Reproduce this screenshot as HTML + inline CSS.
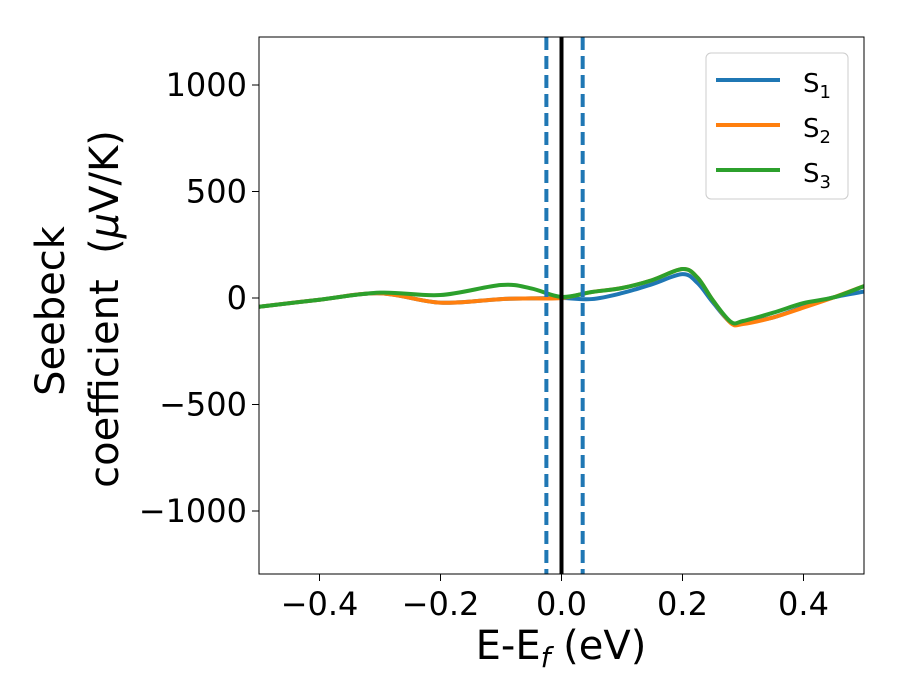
<!DOCTYPE html>
<html><head><meta charset="utf-8"><style>
body{margin:0;background:#fff;}
svg{display:block;font-family:"DejaVu Sans","Liberation Sans",sans-serif;}
</style></head><body>
<svg id="chart" width="900" height="700">
<g id="plot"></g>
<g id="axes"></g>
<text x="561" y="659" font-size="40" text-anchor="middle">E-E<tspan font-style="italic" font-size="28" dy="8">f</tspan><tspan dy="-8"> (eV)</tspan></text>
<text transform="translate(64,311) rotate(-90)" font-size="40" text-anchor="middle">Seebeck</text>
<text transform="translate(118,309) rotate(-90)" font-size="40" text-anchor="middle">coefficient&#160; (<tspan font-style="italic">μ</tspan>V/K)</text>
<g>
<rect x="706" y="53" width="142" height="146" rx="5" fill="#fff" stroke="#ccc" stroke-width="1"/>
<line x1="716" y1="80" x2="780" y2="80" stroke="#1f77b4" stroke-width="4"/>
<text x="803" y="92" font-size="26">S<tspan font-size="18" dy="6">1</tspan></text>
<line x1="716" y1="125" x2="780" y2="125" stroke="#ff7f0e" stroke-width="4"/>
<text x="803" y="137" font-size="26">S<tspan font-size="18" dy="6">2</tspan></text>
<line x1="716" y1="170" x2="780" y2="170" stroke="#2ca02c" stroke-width="4"/>
<text x="803" y="182" font-size="26">S<tspan font-size="18" dy="6">3</tspan></text>
</g>
</svg>
<script>
const energies=[-0.5,-0.4,-0.3,-0.2,-0.1,-0.05,0,0.05,0.1,0.15,0.2,0.225,0.25,0.28,0.3,0.35,0.4,0.45,0.5];
const s1=[-41,-8,22,-22,-5,-2,0,-5,23,65,112,70,-20,-116,-116,-91,-41,3,30];
const s2=[-41,-8,22,-22,-5,-2,0,28,47,84,136,95,-10,-118,-122,-91,-45,3,56];
const s3=[-41,-8,25,14,61,45,5,28,47,84,136,95,-10,-112,-108,-69,-24,3,56];
const xTicks=[-0.4,-0.2,0.0,0.2,0.4];
const xTickLabels=["−0.4","−0.2","0.0","0.2","0.4"];
const yTicks=[1000,500,0,-500,-1000];
const yTickLabels=["1000","500","0","−500","−1000"];
const vLines=[-0.025,0.035];
const X=v=>259+(v+0.5)*605, Y=v=>298-v*0.213;
const NS="http://www.w3.org/2000/svg";
const plot=document.getElementById('plot'),axes=document.getElementById('axes');
function mk(tag,attrs,parent){const e=document.createElementNS(NS,tag);for(const k in attrs)e.setAttribute(k,attrs[k]);parent.appendChild(e);return e;}
function path(xs,ys){const p=xs.map((x,i)=>[X(x),Y(ys[i])]);let d=`M${p[0][0]},${p[0][1]}`;
for(let i=0;i<p.length-1;i++){const p0=p[i-1]||p[i],p1=p[i],p2=p[i+1],p3=p[i+2]||p2;
d+=` C${p1[0]+(p2[0]-p0[0])/6},${p1[1]+(p2[1]-p0[1])/6} ${p2[0]-(p3[0]-p1[0])/6},${p2[1]-(p3[1]-p1[1])/6} ${p2[0]},${p2[1]}`;}return d;}
const clip=mk('clipPath',{id:'cp'},plot);mk('rect',{x:259,y:37,width:605,height:537},clip);
const g=mk('g',{'clip-path':'url(#cp)'},plot);
[[s1,'#1f77b4','series-s1'],[s2,'#ff7f0e','series-s2'],[s3,'#2ca02c','series-s3']].forEach(([s,c,n])=>{
const e=mk('path',{d:path(energies,s),fill:'none',stroke:c,'stroke-width':4},g);

});
vLines.forEach((v,i)=>{const e=mk('line',{x1:X(v),x2:X(v),y1:37,y2:574,stroke:'#1f77b4','stroke-width':4,'stroke-dasharray':'13 6'},g);

});
const fl=mk('line',{x1:X(0),x2:X(0),y1:37,y2:574,stroke:'#000','stroke-width':4},g);


const fr=mk('rect',{x:259,y:37,width:605,height:537,fill:'none',stroke:'#000','stroke-width':1},axes);


xTicks.forEach((v,i)=>{mk('line',{x1:X(v),x2:X(v),y1:574,y2:581,stroke:'#000'},axes);
const t=mk('text',{x:X(v),y:615,'font-size':32,'text-anchor':'middle'},axes);t.textContent=xTickLabels[i];

});
yTicks.forEach((v,i)=>{mk('line',{x1:252,x2:259,y1:Y(v),y2:Y(v),stroke:'#000'},axes);
const t=mk('text',{x:247,y:Y(v)+11,'font-size':32,'text-anchor':'end'},axes);t.textContent=yTickLabels[i];

});
</script>
</body></html>
